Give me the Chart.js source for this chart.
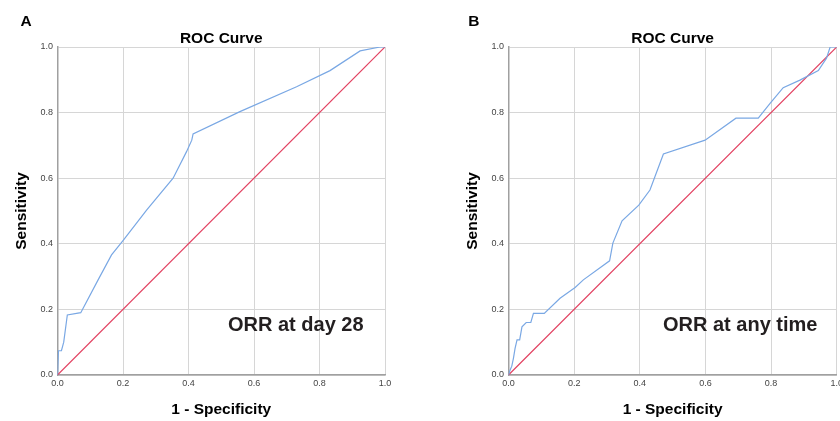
<!DOCTYPE html>
<html>
<head>
<meta charset="utf-8">
<script src="https://cdn.jsdelivr.net/npm/chart.js@4.4.1/dist/chart.umd.min.js"></script>
<style>
  html, body { margin: 0; padding: 0; background: #fff; overflow: hidden; width: 840px; height: 421px; }
  canvas { position: absolute; top: 0; }
  #chartA { left: 0; }
  #chartB { left: 420px; }
</style>
</head>
<body>
<canvas id="chartA" width="420" height="421"></canvas>
<canvas id="chartB" width="430" height="421"></canvas>
<script>
// ROC curve A - ORR at day 28
var fprA = [0, 0.003, 0.012, 0.019, 0.03, 0.071, 0.124, 0.165, 0.2, 0.272, 0.353, 0.394, 0.41, 0.414, 0.557, 0.73, 0.832, 0.924, 0.985, 1];
var tprA = [0, 0.074, 0.074, 0.10, 0.183, 0.19, 0.29, 0.366, 0.41, 0.503, 0.60, 0.681, 0.716, 0.735, 0.803, 0.879, 0.928, 0.988, 1.0, 1.0];

// ROC curve B - ORR at any time
var fprB = [0, 0.005, 0.01, 0.015, 0.02, 0.026, 0.034, 0.041, 0.054, 0.068, 0.076, 0.109, 0.157, 0.203, 0.228, 0.308, 0.318, 0.346, 0.397, 0.431, 0.472, 0.599, 0.693, 0.761, 0.797, 0.837, 0.888, 0.944, 0.969, 0.98, 1];
var tprB = [0, 0.015, 0.027, 0.051, 0.081, 0.107, 0.107, 0.147, 0.16, 0.16, 0.188, 0.188, 0.234, 0.267, 0.29, 0.348, 0.402, 0.47, 0.518, 0.564, 0.674, 0.716, 0.783, 0.783, 0.828, 0.876, 0.899, 0.928, 0.966, 1.0, 1.0];

// reference line
var refX = [0, 1];
var refY = [0, 1];

var tickValues = [0, 0.2, 0.4, 0.6, 0.8, 1.0];

Chart.defaults.font.family = "'Liberation Sans', Arial, sans-serif";

function toPoints(xs, ys) {
  var pts = [];
  for (var i = 0; i < xs.length; i++) {
    pts.push({ x: xs[i], y: ys[i] });
  }
  return pts;
}

// draws panel letter, title and the note inside the plot
var panelText = {
  id: "panelText",
  afterDraw: function (chart, args, opts) {
    var ctx = chart.ctx;
    var area = chart.chartArea;
    ctx.save();
    ctx.fillStyle = "#000";
    ctx.textBaseline = "alphabetic";
    ctx.font = "bold 15.5px 'Liberation Sans', Arial, sans-serif";
    ctx.textAlign = "left";
    ctx.fillText(opts.letter, opts.letterX, 26);
    ctx.textAlign = "center";
    ctx.fillText("ROC Curve", (area.left + area.right) / 2, 42.5);
    ctx.fillStyle = "#231f20";
    ctx.font = "bold 20px 'Liberation Sans', Arial, sans-serif";
    ctx.textAlign = "left";
    ctx.fillText(opts.note, opts.noteX, 331);
    ctx.restore();
  }
};

function makeScales() {
  var tickFont = { size: 9 };
  var titleFont = { size: 15.5, weight: "bold" };
  return {
    x: {
      type: "linear",
      min: 0,
      max: 1,
      afterBuildTicks: function (scale) {
        scale.ticks = tickValues.map(function (v) { return { value: v }; });
      },
      afterFit: function (scale) { scale.height = 46; },
      ticks: {
        color: "#444",
        font: tickFont,
        padding: 3,
        maxRotation: 0,
        callback: function (v) { return v.toFixed(1); }
      },
      grid: { color: "#d6d6d6", lineWidth: 1, drawTicks: false },
      border: { color: "#a0a0a0", width: 1.5 },
      title: {
        display: true,
        text: "1 - Specificity",
        color: "#000",
        font: titleFont,
        padding: { top: 0, bottom: 2 }
      }
    },
    y: {
      type: "linear",
      min: 0,
      max: 1,
      afterBuildTicks: function (scale) {
        scale.ticks = tickValues.map(function (v) { return { value: v }; });
      },
      afterFit: function (scale) { scale.width = 57.5; },
      ticks: {
        color: "#444",
        font: tickFont,
        padding: 4.5,
        callback: function (v) { return v.toFixed(1); }
      },
      grid: { color: "#d6d6d6", lineWidth: 1, drawTicks: false },
      border: { color: "#a0a0a0", width: 1.5 },
      title: {
        display: true,
        text: "Sensitivity",
        color: "#000",
        font: titleFont,
        padding: { top: 12, bottom: 0 }
      }
    }
  };
}

function makeChart(id, xs, ys, padding, textOpts) {
  var ctx = document.getElementById(id);
  return new Chart(ctx, {
    type: "scatter",
    data: {
      datasets: [
        {
          label: "ROC",
          data: toPoints(xs, ys),
          showLine: true,
          borderColor: "rgb(122, 168, 228)",
          borderWidth: 1.2,
          pointRadius: 0,
          tension: 0
        },
        {
          label: "Reference",
          data: toPoints(refX, refY),
          showLine: true,
          borderColor: "rgb(226, 64, 96)",
          borderWidth: 1.2,
          pointRadius: 0,
          tension: 0
        }
      ]
    },
    options: {
      responsive: false,
      animation: false,
      devicePixelRatio: 1,
      layout: { padding: padding },
      plugins: {
        legend: { display: false },
        tooltip: { enabled: false },
        panelText: textOpts
      },
      scales: makeScales()
    },
    plugins: [panelText]
  });
}

makeChart("chartA", fprA, tprA,
  { left: 0, top: 47, right: 35, bottom: 0 },
  { letter: "A", letterX: 20.5, note: "ORR at day 28", noteX: 228 });

makeChart("chartB", fprB, tprB,
  { left: 31, top: 47, right: 13.3, bottom: 0 },
  { letter: "B", letterX: 48.3, note: "ORR at any time", noteX: 243 });
</script>
</body>
</html>
